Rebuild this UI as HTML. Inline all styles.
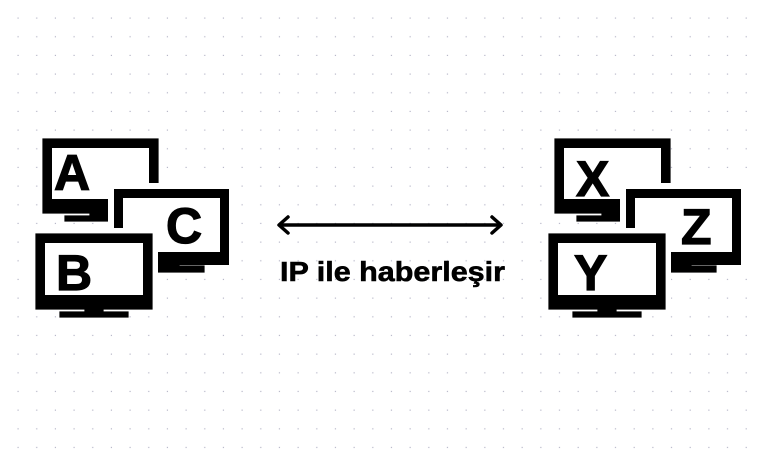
<!DOCTYPE html>
<html><head><meta charset="utf-8"><style>
html,body{margin:0;padding:0;background:#fff;}
svg{display:block;}
</style></head><body>
<svg width="760" height="455" viewBox="0 0 760 455" xmlns="http://www.w3.org/2000/svg">
<defs>
<pattern id="dots" x="0" y="0" width="18.67" height="18.67" patternUnits="userSpaceOnUse">
<rect x="17.5" y="17.5" width="2.2" height="2.2" fill="#b4b4c6"/>
</pattern>
<g id="mon">
<rect x="-6" y="-6" width="127" height="88" fill="#fff"/>
<rect x="0" y="0" width="115" height="76" fill="#000"/>
<rect x="9" y="9" width="97" height="54" fill="#fff"/>
</g>
</defs>
<rect width="760" height="455" fill="#fff"/>
<rect width="760" height="455" fill="url(#dots)"/>

<g font-family="Liberation Sans, sans-serif" font-weight="bold" font-size="50" stroke="#000" stroke-width="1.2">
<rect x="43" y="139" width="115" height="74" fill="#000"/>
<rect x="52" y="148" width="97" height="51" fill="#fff" stroke="none"/>
<rect x="90" y="211" width="18" height="8" fill="#000"/>
<rect x="65" y="216" width="43" height="5" fill="#000"/>
<text x="54" y="190">A</text>
<use href="#mon" x="114" y="189" stroke="none"/>
<rect x="157" y="262" width="22" height="7" fill="#000"/>
<rect x="157" y="266" width="47" height="6" fill="#000"/>
<text x="166" y="243">C</text>
<rect x="30" y="228" width="128" height="88" fill="#fff" stroke="none"/>
<rect x="36" y="234" width="116" height="75" fill="#000"/>
<rect x="45" y="243" width="98" height="52" fill="#fff" stroke="none"/>
<rect x="85" y="307" width="18" height="7" fill="#000"/>
<rect x="60" y="312" width="68" height="5" fill="#000"/>
<text x="56" y="290">B</text>

<rect x="555" y="139" width="115" height="74" fill="#000"/>
<rect x="564" y="148" width="97" height="51" fill="#fff" stroke="none"/>
<rect x="602" y="211" width="18" height="8" fill="#000"/>
<rect x="577" y="216" width="43" height="5" fill="#000"/>
<text x="576" y="196">X</text>
<use href="#mon" x="626" y="189" stroke="none"/>
<rect x="669" y="262" width="22" height="7" fill="#000"/>
<rect x="669" y="266" width="47" height="6" fill="#000"/>
<text x="681" y="244">Z</text>
<rect x="543" y="228" width="128" height="88" fill="#fff" stroke="none"/>
<rect x="549" y="234" width="116" height="75" fill="#000"/>
<rect x="558" y="243" width="98" height="52" fill="#fff" stroke="none"/>
<rect x="598" y="307" width="18" height="7" fill="#000"/>
<rect x="573" y="312" width="68" height="5" fill="#000"/>
<text x="574" y="290">Y</text>
</g>

<g stroke="#000" stroke-width="3.5" fill="none" stroke-linecap="round" stroke-linejoin="round">
<line x1="280" y1="225" x2="500" y2="225"/>
<polyline points="288,217 279,225 288,233"/>
<polyline points="492,217 501,225 492,233"/>
</g>
<text x="280" y="281" font-family="Liberation Sans, sans-serif" font-weight="bold" font-size="28" stroke="#000" stroke-width="0.6" textLength="225" lengthAdjust="spacingAndGlyphs" fill="#000">IP ile haberleşir</text>
</svg>
</body></html>
